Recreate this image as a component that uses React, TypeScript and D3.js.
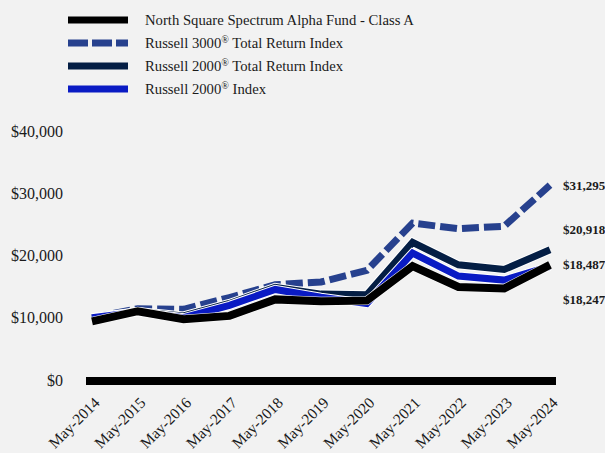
import * as d3 from "d3";

const categories = ["May-2014", "May-2015", "May-2016", "May-2017", "May-2018", "May-2019", "May-2020", "May-2021", "May-2022", "May-2023", "May-2024"];
const fundValues = [9425, 11050, 9750, 10300, 12950, 12650, 12750, 18300, 14950, 14700, 18487];
const r3000Values = [10000, 11450, 11350, 13250, 15300, 15750, 17600, 25200, 24300, 24700, 31295];
const r2000TrValues = [10000, 11000, 10300, 12300, 14900, 13800, 13700, 22100, 18500, 17750, 20918];
const r2000Values = [10000, 10900, 10000, 12000, 14550, 13300, 12300, 20400, 16700, 16050, 18247];
const yTicks = [0, 10000, 20000, 30000, 40000];

const series = [
  { name: "North Square Spectrum Alpha Fund - Class A", values: fundValues, color: "#000000", dash: null as string | null, end: "$18,487", labelShift: 0 },
  { name: "Russell 3000", values: r3000Values, color: "#27418e", dash: "17,5", end: "$31,295", labelShift: 0 },
  { name: "Russell 2000", values: r2000TrValues, color: "#041e44", dash: null, end: "$20,918", labelShift: -20 },
  { name: "Russell 2000", values: r2000Values, color: "#0a1bc4", dash: null, end: "$18,247", labelShift: 33 },
];
const legendSuffix = ["", "3000", "2000", "2000"];
const legendTail = ["", " Total Return Index", " Total Return Index", " Index"];

export default function App() {
  const width = 605;
  const height = 453;

  const x = d3.scalePoint<string>().domain(categories).range([92, 550]);
  const y = d3.scaleLinear().domain([0, 40000]).range([380, 131]);
  const line = d3
    .line<number>()
    .x((_, i) => x(categories[i]) as number)
    .y((d) => y(d));

  const fmt = (v: number) => "$" + d3.format(",")(v);
  const drawOrder = [1, 2, 3, 0];

  return (
    <div style={{ position: "absolute", left: 0, top: 0 }}>
      <svg width={width} height={height} style={{ display: "block", background: "#f2f2f2" }}>
        <rect width={width} height={height} fill="#f2f2f2" />

        {/* Legend */}
        {series.map((s, i) => (
          <g key={"lg" + i} transform={`translate(0,${20 + i * 23})`}>
            <line
              x1={68}
              x2={128}
              y1={0}
              y2={0}
              stroke={s.color}
              strokeWidth={7}
              strokeDasharray={s.dash ? "20,4" : undefined}
            />
            <text x={145} y={5} fontFamily="Liberation Serif, serif" fontSize={14.7} fill="#1a1a1a">
              {i === 0 ? (
                s.name
              ) : (
                <>
                  {"Russell " + legendSuffix[i]}
                  <tspan fontSize={10} dy={-5}>®</tspan>
                  <tspan dy={5}>{legendTail[i]}</tspan>
                </>
              )}
            </text>
          </g>
        ))}

        {/* Y axis labels */}
        {yTicks.map((t) => (
          <text
            key={t}
            x={63}
            y={y(t)}
            dy="0.35em"
            textAnchor="end"
            fontFamily="Liberation Serif, serif"
            fontSize={16}
            fill="#1a1a1a"
          >
            {fmt(t)}
          </text>
        ))}

        {/* Baseline */}
        <line x1={86} x2={556} y1={y(0) + 1} y2={y(0) + 1} stroke="#000" strokeWidth={8} />

        {/* Series lines */}
        {drawOrder.map((i) => {
          const s = series[i];
          return (
            <g key={"ln" + i}>
              {!s.dash && (
                <path d={line(s.values) ?? ""} fill="none" stroke="#ffffff" strokeWidth={9} strokeLinejoin="miter" />
              )}
              <path
                d={line(s.values) ?? ""}
                fill="none"
                stroke={s.color}
                strokeWidth={i === 0 ? 8 : 7}
                strokeDasharray={s.dash ?? undefined}
                strokeLinejoin="miter"
              />
            </g>
          );
        })}

        {/* End labels */}
        {series.map((s, i) => (
          <text
            key={"el" + i}
            x={563}
            y={y(s.values[s.values.length - 1]) + s.labelShift}
            dy="0.35em"
            fontFamily="Liberation Serif, serif"
            fontWeight="bold"
            fontSize={13}
            fill="#1a1a1a"
          >
            {s.end}
          </text>
        ))}

        {/* X axis labels */}
        {categories.map((c) => (
          <text
            key={c}
            transform={`translate(${(x(c) as number) + 1},${396}) rotate(-45)`}
            textAnchor="end"
            dy="0.7em"
            fontFamily="Liberation Serif, serif"
            fontSize={15.5}
            fill="#1a1a1a"
          >
            {c}
          </text>
        ))}
      </svg>
    </div>
  );
}
